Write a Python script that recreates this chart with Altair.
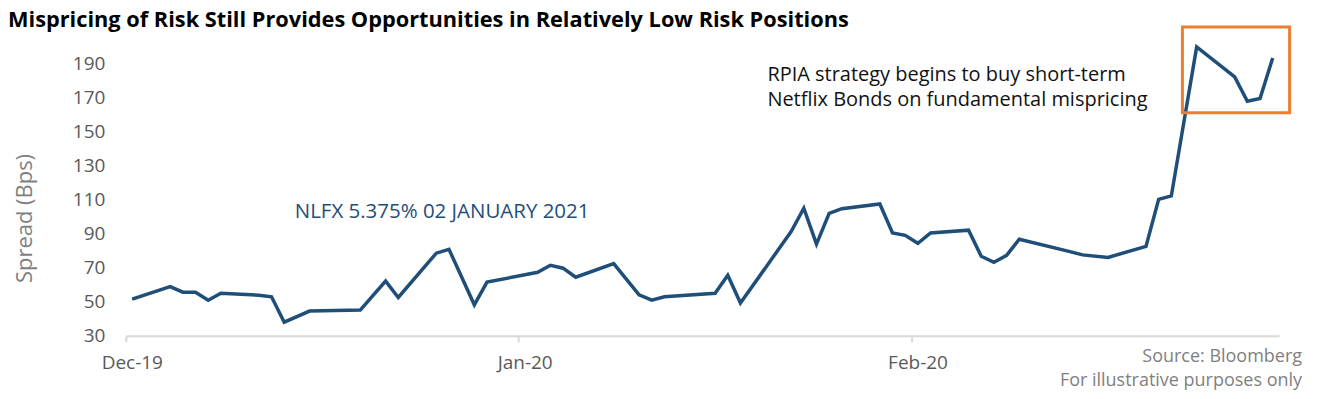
import altair as alt
import pandas as pd

# ---- data ----
dates = ["2019-12-01","2019-12-04","2019-12-05","2019-12-06","2019-12-07","2019-12-08",
         "2019-12-11","2019-12-12","2019-12-13","2019-12-15","2019-12-19","2019-12-21",
         "2019-12-22","2019-12-25","2019-12-26","2019-12-28","2019-12-29","2020-01-02",
         "2020-01-03","2020-01-04","2020-01-05","2020-01-08","2020-01-10","2020-01-11",
         "2020-01-12","2020-01-16","2020-01-17","2020-01-18","2020-01-22","2020-01-23",
         "2020-01-24","2020-01-25","2020-01-26","2020-01-29","2020-01-30","2020-01-31",
         "2020-02-01","2020-02-02","2020-02-05","2020-02-06","2020-02-07","2020-02-08",
         "2020-02-09","2020-02-13","2020-02-14","2020-02-16","2020-02-19","2020-02-20",
         "2020-02-21","2020-02-23","2020-02-26","2020-02-27","2020-02-28","2020-02-29"]
spread = [51.5, 58.9, 55.6, 55.6, 50.9, 55.0,
          53.8, 52.9, 38.0, 44.5, 45.1, 62.1,
          52.5, 78.5, 80.8, 48.2, 61.5, 67.3,
          71.4, 69.7, 64.4, 72.4, 54.0, 50.9,
          52.9, 55.0, 65.6, 49.2, 91.2, 104.9,
          83.8, 101.9, 104.6, 107.4, 90.4, 89.0,
          84.3, 90.4, 92.0, 76.7, 73.2, 77.2,
          86.7, 79.4, 77.5, 76.0, 82.5, 110.1,
          112.1, 199.6, 182.0, 167.7, 169.3, 193.1]

y_ticks = [30, 50, 70, 90, 110, 130, 150, 170, 190]
x_tick_labels = ["Dec-19", "Jan-20", "Feb-20"]

title_text = "Mispricing of Risk Still Provides Opportunities in Relatively Low Risk Positions"
series_label = "NLFX 5.375% 02 JANUARY 2021"
note_lines = ["RPIA strategy begins to buy short-term", "Netflix Bonds on fundamental mispricing"]
source_lines = ["Source: Bloomberg", "For illustrative purposes only"]

df = pd.DataFrame({"date": [d + "T12:00:00Z" for d in dates], "spread": spread})

FONT = "Open Sans"
BLUE = "#1F4E79"
GREY = "#595959"

x_scale = alt.Scale(type="utc", domain=[alt.DateTime(year=2019, month=12, date=1, utc=True),
                                        alt.DateTime(year=2020, month=3, date=1, utc=True)], nice=False)
y_scale = alt.Scale(domain=[30, 200], nice=False, zero=False)

x_axis = alt.Axis(
    values=[alt.DateTime(year=2019, month=12, date=1, utc=True),
            alt.DateTime(year=2020, month=1, date=1, utc=True),
            alt.DateTime(year=2020, month=2, date=1, utc=True)],
    format="%b-%y", title=None, grid=False,
    domainColor="#D9D9D9", domainWidth=2, tickColor="#D9D9D9", tickWidth=2, tickSize=6,
    labelFont=FONT, labelFontSize=19, labelColor=GREY, labelOffset=6, labelFlush=False,
    labelPadding=12, labelOverlap=False)
y_axis = alt.Axis(
    values=y_ticks, title="Spread (Bps)", grid=False, domain=False, ticks=False,
    labelFont=FONT, labelFontSize=19, labelColor=GREY, labelPadding=21,
    labelOverlap=False, labelSeparation=0,
    titleFont=FONT, titleFontSize=22, titleColor="#7F7F7F", titleFontWeight="normal",
    titleX=-101, titleY=172, titleAngle=-90, titleAlign="center", titleBaseline="middle")

line = alt.Chart(df).mark_line(color=BLUE, strokeWidth=3.5).encode(
    x=alt.X("date:T", scale=x_scale, axis=x_axis),
    y=alt.Y("spread:Q", scale=y_scale, axis=y_axis),
)

label_df = pd.DataFrame({"date": ["2019-12-14T08:00:00Z"], "spread": [102.7], "t": [series_label]})
series_text = alt.Chart(label_df).mark_text(
    align="left", baseline="middle", font=FONT, fontSize=20.5, color=BLUE
).encode(x=alt.X("date:T", scale=x_scale, axis=x_axis),
         y=alt.Y("spread:Q", scale=y_scale, axis=y_axis), text="t:N")

note_df = pd.DataFrame({"date": ["2020-01-20T15:00:00Z"] * 2, "spread": [183.0, 168.3], "t": note_lines})
note_text = alt.Chart(note_df).mark_text(
    align="left", baseline="middle", font=FONT, fontSize=20, color="#111111"
).encode(x=alt.X("date:T", scale=x_scale, axis=x_axis),
         y=alt.Y("spread:Q", scale=y_scale, axis=y_axis), text="t:N")

box_df = pd.DataFrame({"date": ["2020-02-22T09:00:00Z"], "date2": ["2020-03-01T20:00:00Z"],
                       "spread": [160.9], "spread2": [211.3]})
box = alt.Chart(box_df).mark_rect(fill=None, stroke="#ED7D31", strokeWidth=3, clip=False).encode(
    x=alt.X("date:T", scale=x_scale, axis=x_axis), x2="date2:T",
    y=alt.Y("spread:Q", scale=y_scale, axis=y_axis), y2="spread2:Q")

src1 = alt.Chart(pd.DataFrame({"t": [source_lines[0]]})).mark_text(
    align="right", baseline="middle", font=FONT, fontSize=18, color="#7F7F7F"
).encode(x=alt.value(1178), y=alt.value(311), text="t:N")
src2 = alt.Chart(pd.DataFrame({"t": [source_lines[1]]})).mark_text(
    align="right", baseline="middle", font=FONT, fontSize=18, color="#7F7F7F"
).encode(x=alt.value(1178), y=alt.value(335), text="t:N")

title = alt.Chart(pd.DataFrame({"t": [title_text]})).mark_text(
    align="left", baseline="alphabetic", font=FONT, fontSize=21.8, fontWeight="bold", color="#000000"
).encode(x=alt.value(-118), y=alt.value(-19), text="t:N")

chart = alt.layer(line, series_text, note_text, box, src1, src2, title).properties(
    width=1155, height=290,
    autosize="none",
    padding={"left": 118, "top": 38, "right": 30, "bottom": 60},
).configure_view(strokeWidth=0)

chart.save("out.html", embed_options={"renderer": "svg", "actions": False})
